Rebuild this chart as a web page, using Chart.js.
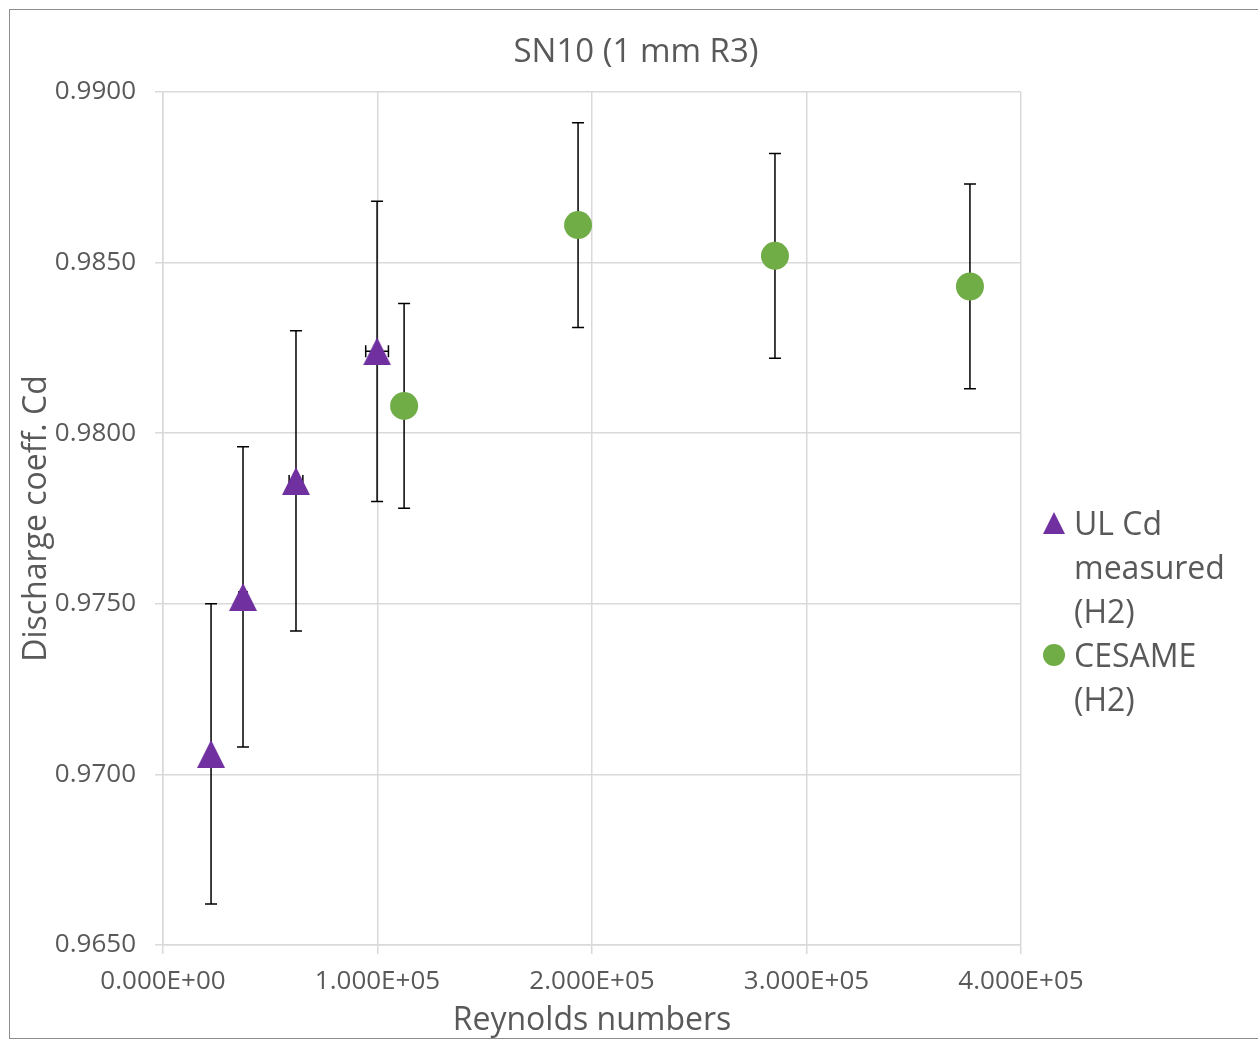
<!DOCTYPE html>
<html>
<head>
<meta charset="utf-8">
<title>SN10 (1 mm R3)</title>
<script src="https://cdn.jsdelivr.net/npm/chart.js@4.4.1/dist/chart.umd.min.js"></script>
<style>
  html, body { margin: 0; padding: 0; background: #fff; }
  #wrap { position: relative; width: 1258px; height: 1041px; overflow: hidden; }
  #frame { position: absolute; left: 9px; top: 9px; width: 1262px; height: 1028px; border: 1px solid #8c8c8c; pointer-events: none; }
  #legend { position: absolute; left: 1043px; top: 501px; font-family: 'Open Sans', sans-serif; font-size: 32px; line-height: 44px; color: #595959; }
  .item { display: flex; align-items: flex-start; }
  .mark { width: 22px; height: 22px; margin-top: 11px; margin-right: 9px; flex: none; }
  .tri { background: #7030A0; clip-path: polygon(50% 0, 100% 100%, 0 100%); }
  .dot { background: #70AD47; border-radius: 50%; }
  .txt { width: 180px; }
</style>
</head>
<body>
<div id="wrap">
  <canvas id="chart" width="1258" height="1041"></canvas>
  <div id="frame"></div>
  <div id="legend"></div>
</div>
<script>
// UL Cd measured (H2)
const ulRe = [22400, 37300, 62000, 99800];
const ulCd = [0.9706, 0.9752, 0.9786, 0.9824];
const ulReErr = [1100, 1900, 3200, 5300];
const ulCdErr = [0.0044, 0.0044, 0.0044, 0.0044];

// CESAME (H2)
const cesRe = [112400, 193500, 285300, 376200];
const cesCd = [0.9808, 0.9861, 0.9852, 0.9843];
const cesReErr = [0, 0, 0, 0];
const cesCdErr = [0.0030, 0.0030, 0.0030, 0.0030];

const seriesNames = ['UL Cd measured (H2)', 'CESAME (H2)'];
const chartTitle = 'SN10 (1 mm R3)';
const xTicks = [0, 100000, 200000, 300000, 400000];
const yTicks = [0.965, 0.970, 0.975, 0.980, 0.985, 0.990];

const textColor = '#595959';
const gridColor = '#d9d9d9';
const fontFamily = "'Open Sans', sans-serif";

// excel style 1.000E+05
function sci(v) {
    const parts = v.toExponential(3).split('e');
    const n = parseInt(parts[1], 10);
    return parts[0] + 'E' + (n < 0 ? '-' : '+') + String(Math.abs(n)).padStart(2, '0');
}

function triangleMarker(w, h, color) {
    const c = document.createElement('canvas');
    c.width = w; c.height = h;
    const g = c.getContext('2d');
    g.fillStyle = color;
    g.beginPath();
    g.moveTo(w / 2, 0);
    g.lineTo(w, h);
    g.lineTo(0, h);
    g.closePath();
    g.fill();
    return c;
}

function toPoints(xs, ys, xe, ye) {
    return xs.map((x, i) => ({ x: x, y: ys[i], xErr: xe[i], yErr: ye[i] }));
}

// error bars drawn under the markers
const errorBars = {
    id: 'errorBars',
    beforeDatasetsDraw(chart) {
        const ctx = chart.ctx;
        const xs = chart.scales.x, ys = chart.scales.y;
        const cap = 6;
        ctx.save();
        ctx.strokeStyle = '#000';
        ctx.lineWidth = 1.5;
        chart.data.datasets.forEach(ds => {
            ds.data.forEach(p => {
                const px = xs.getPixelForValue(p.x);
                const py = ys.getPixelForValue(p.y);
                ctx.beginPath();
                if (p.yErr) {
                    const top = ys.getPixelForValue(p.y + p.yErr);
                    const bot = ys.getPixelForValue(p.y - p.yErr);
                    ctx.moveTo(px, top); ctx.lineTo(px, bot);
                    ctx.moveTo(px - cap, top); ctx.lineTo(px + cap, top);
                    ctx.moveTo(px - cap, bot); ctx.lineTo(px + cap, bot);
                }
                if (p.xErr) {
                    const l = xs.getPixelForValue(p.x - p.xErr);
                    const r = xs.getPixelForValue(p.x + p.xErr);
                    ctx.moveTo(l, py); ctx.lineTo(r, py);
                    ctx.moveTo(l, py - cap); ctx.lineTo(l, py + cap);
                    ctx.moveTo(r, py - cap); ctx.lineTo(r, py + cap);
                }
                ctx.stroke();
            });
        });
        ctx.restore();
    }
};

// title centred on the whole frame, not on the plot area
const frameTitle = {
    id: 'frameTitle',
    afterDraw(chart) {
        const ctx = chart.ctx;
        ctx.save();
        ctx.fillStyle = textColor;
        ctx.font = "33px 'Open Sans', sans-serif";
        ctx.textAlign = 'center';
        ctx.textBaseline = 'middle';
        ctx.fillText(chartTitle, 636, 53);
        ctx.restore();
    }
};

const ctx = document.getElementById('chart').getContext('2d');
const chart = new Chart(ctx, {
    type: 'scatter',
    data: {
        datasets: [{
            label: seriesNames[0],
            data: toPoints(ulRe, ulCd, ulReErr, ulCdErr),
            pointStyle: triangleMarker(28, 28, '#7030A0'),
            backgroundColor: '#7030A0',
            borderColor: '#7030A0'
        }, {
            label: seriesNames[1],
            data: toPoints(cesRe, cesCd, cesReErr, cesCdErr),
            pointStyle: 'circle',
            pointRadius: 14,
            pointHoverRadius: 14,
            borderWidth: 0,
            backgroundColor: '#70AD47',
            borderColor: '#70AD47'
        }]
    },
    options: {
        responsive: false,
        animation: false,
        layout: { padding: { left: 0, right: 237, top: 92, bottom: 0 } },
        plugins: {
            legend: { display: false },
            tooltip: { enabled: false },
            title: { display: false }
        },
        scales: {
            x: {
                type: 'linear',
                min: 0, max: 400000,
                afterFit(scale) { scale.height = 96; },
                afterBuildTicks(scale) { scale.ticks = xTicks.map(v => ({ value: v })); },
                ticks: {
                    color: textColor,
                    font: { family: fontFamily, size: 26 },
                    padding: 12,
                    callback: v => sci(v)
                },
                grid: { color: gridColor, lineWidth: 1.5, tickLength: 9, tickColor: gridColor },
                border: { color: gridColor, width: 1.5 },
                title: {
                    display: true,
                    text: 'Reynolds numbers',
                    color: textColor,
                    font: { family: fontFamily, size: 32 },
                    padding: { top: 0, bottom: 1 }
                }
            },
            y: {
                type: 'linear',
                min: 0.965, max: 0.99,
                afterFit(scale) { scale.width = 163; },
                afterBuildTicks(scale) { scale.ticks = yTicks.map(v => ({ value: v })); },
                ticks: {
                    color: textColor,
                    font: { family: fontFamily, size: 26 },
                    padding: 19,
                    callback: v => v.toFixed(4)
                },
                grid: { color: gridColor, lineWidth: 1.5, tickLength: 8, tickColor: gridColor },
                border: { color: gridColor, width: 1.5 },
                title: {
                    display: true,
                    text: 'Discharge coeff. Cd',
                    color: textColor,
                    font: { family: fontFamily, size: 32 },
                    padding: { top: 18, bottom: 0 }
                }
            }
        }
    },
    plugins: [errorBars, frameTitle]
});

// html legend so the names wrap like the original
const legendEl = document.getElementById('legend');
chart.data.datasets.forEach((ds, i) => {
    const row = document.createElement('div');
    row.className = 'item';
    const mark = document.createElement('div');
    mark.className = 'mark ' + (i === 0 ? 'tri' : 'dot');
    const txt = document.createElement('div');
    txt.className = 'txt';
    txt.textContent = ds.label;
    row.appendChild(mark);
    row.appendChild(txt);
    legendEl.appendChild(row);
});
</script>
</body>
</html>
